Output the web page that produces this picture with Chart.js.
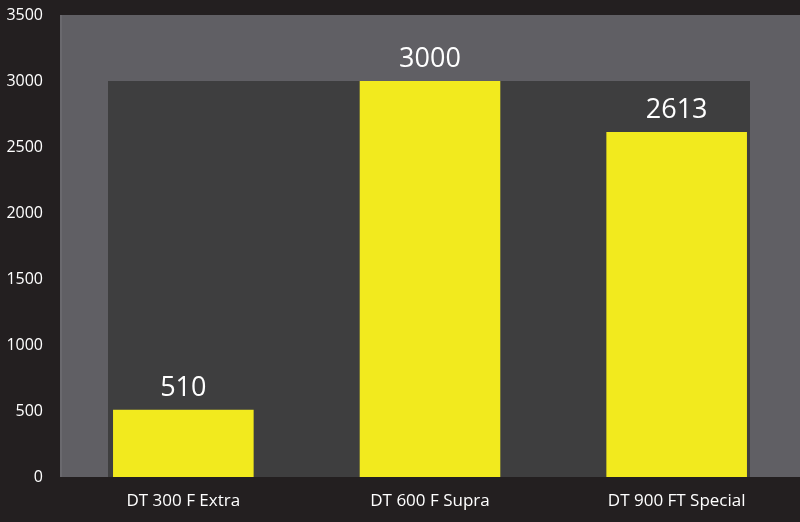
<!DOCTYPE html>
<html>
<head>
<meta charset="utf-8">
<script src="https://cdn.jsdelivr.net/npm/chart.js@4"></script>
<style>
  html, body { margin: 0; padding: 0; background: #231f20; }
  #wrap { width: 800px; height: 522px; }
</style>
</head>
<body>
<div id="wrap"><canvas id="bars"></canvas></div>
<script>
const models = ['DT 300 F Extra', 'DT 600 F Supra', 'DT 900 FT Special'];
const values = [510, 3000, 2613];
const yTicks = [0, 500, 1000, 1500, 2000, 2500, 3000, 3500];
const panelTop = 3000;

// gray plot background plus the darker inner panel
const panels = {
    id: 'panels',
    beforeDatasetsDraw(chart) {
        const { ctx, chartArea: a, scales } = chart;
        ctx.save();
        ctx.fillStyle = '#605f64';
        ctx.fillRect(a.left, a.top, a.right - a.left, a.bottom - a.top);
        ctx.fillStyle = '#6a696e';
        ctx.fillRect(a.left, a.top, 2, a.bottom - a.top);
        const top = scales.y.getPixelForValue(panelTop);
        ctx.fillStyle = '#3e3e3f';
        ctx.fillRect(a.left + 48, top, a.right - a.left - 98, a.bottom - top);
        ctx.restore();
    }
};

const valueLabels = {
    id: 'valueLabels',
    afterDatasetsDraw(chart) {
        const { ctx } = chart;
        const meta = chart.getDatasetMeta(0);
        ctx.save();
        ctx.fillStyle = '#ffffff';
        ctx.font = '27px "Open Sans"';
        ctx.textAlign = 'center';
        ctx.textBaseline = 'alphabetic';
        meta.data.forEach((bar, i) => {
            ctx.fillText(values[i], bar.x, bar.y - 14);
        });
        ctx.restore();
    }
};

const ctx = document.getElementById('bars').getContext('2d');
const myChart = new Chart(ctx, {
    type: 'bar',
    data: {
        labels: models,
        datasets: [{
            data: values,
            backgroundColor: '#f2ea1e',
            barPercentage: 0.57,
            categoryPercentage: 1
        }]
    },
    options: {
        responsive: true,
        maintainAspectRatio: false,
        animation: false,
        layout: { padding: { top: 15, right: 0 } },
        plugins: {
            legend: { display: false },
            tooltip: { enabled: false }
        },
        scales: {
            x: {
                grid: { display: false, drawTicks: false },
                border: { display: false },
                ticks: {
                    color: '#ffffff',
                    font: { family: 'Open Sans', size: 17 },
                    padding: 14
                },
                afterFit(scale) { scale.height = 45; }
            },
            y: {
                min: 0,
                max: 3500,
                afterBuildTicks(scale) { scale.ticks = yTicks.map(v => ({ value: v })); },
                grid: { display: false, drawTicks: false },
                border: { display: false },
                ticks: {
                    color: '#ffffff',
                    font: { family: 'Open Sans', size: 16 },
                    padding: 17,
                    callback: v => String(v)
                },
                afterFit(scale) {
                    scale.width = 60;
                    scale.paddingTop = 0;
                    scale.paddingBottom = 0;
                }
            }
        }
    },
    plugins: [panels, valueLabels]
});
</script>
</body>
</html>
